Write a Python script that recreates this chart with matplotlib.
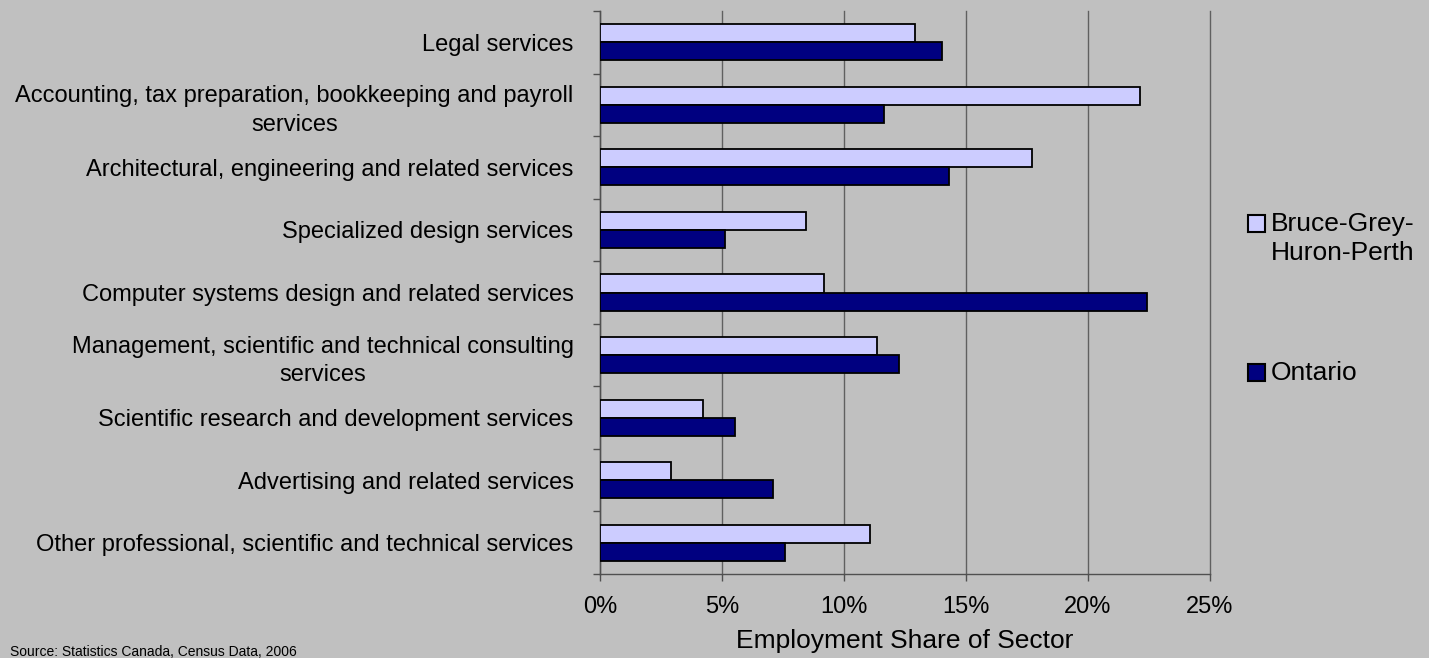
import matplotlib
matplotlib.use('Agg')
import matplotlib.pyplot as plt
from matplotlib.patches import Rectangle
import numpy as np

# Employment share by industry (percent)
categories = [
    'Legal services',
    'Accounting, tax preparation, bookkeeping and payroll\nservices',
    'Architectural, engineering and related services',
    'Specialized design services',
    'Computer systems design and related services',
    'Management, scientific and technical consulting\nservices',
    'Scientific research and development services',
    'Advertising and related services',
    'Other professional, scientific and technical services',
]
bghp = [12.92, 22.15, 17.73, 8.44, 9.19, 11.37, 4.22, 2.90, 11.06]
ontario = [14.03, 11.66, 14.32, 5.13, 22.44, 12.26, 5.52, 7.11, 7.59]
xticks = [0, 5, 10, 15, 20, 25]

plt.rcParams['font.family'] = ['Liberation Sans', 'DejaVu Sans']

bg = '#C0C0C0'
fig = plt.figure(figsize=(14.29, 6.58), dpi=100, facecolor=bg)
W, H = 1429, 658
ax = fig.add_axes([600 / W, 1 - 574 / H, 609.5 / W, 563 / H], facecolor=bg)

y = np.arange(len(categories))
h = 0.288
ax.barh(y - h / 2, bghp, height=h, color='#CCCCFF', edgecolor='black', linewidth=1.3, zorder=3)
ax.barh(y + h / 2, ontario, height=h, color='#000080', edgecolor='black', linewidth=1.3, zorder=3)

ax.set_xlim(0, 25)
ax.set_ylim(len(categories) - 0.5, -0.5)

# vertical gridlines
ax.set_xticks(xticks)
ax.set_xticklabels([f'{t}%' for t in xticks], fontsize=17)
ax.grid(axis='x', color='#606060', linewidth=1, zorder=1)
for gl in ax.get_xgridlines():
    gl.set_clip_on(False)
ax.tick_params(axis='x', length=5, width=1, color='#505050', pad=11)

# y ticks at category boundaries, labels in between
ax.set_yticks(np.arange(-0.5, len(categories)), labels=[''] * (len(categories) + 1))
ax.set_yticks(y, labels=categories, minor=True)
ax.tick_params(axis='y', which='major', length=5, width=1, color='#505050')
ax.tick_params(axis='y', which='minor', length=0, pad=19, labelsize=17)
for lab in ax.get_yticklabels(minor=True):
    lab.set_multialignment('center')
    lab.set_linespacing(1.38)

for s in ['top', 'right']:
    ax.spines[s].set_visible(False)
for s in ['left', 'bottom']:
    ax.spines[s].set_color('#505050')
    ax.spines[s].set_linewidth(1)

ax.set_xlabel('Employment Share of Sector', fontsize=19, labelpad=8)

# legend drawn by hand so the box sits at the first text line
sq = 17
fig.patches.append(Rectangle((1248 / W, 1 - 232 / H), sq / W, sq / H, transform=fig.transFigure,
                             facecolor='#CCCCFF', edgecolor='black', linewidth=1.5))
fig.patches.append(Rectangle((1248 / W, 1 - 381 / H), sq / W, sq / H, transform=fig.transFigure,
                             facecolor='#000080', edgecolor='black', linewidth=1.5))
fig.text(1271 / W, 1 - 224 / H, 'Bruce-Grey-', fontsize=19, va='center', ha='left')
fig.text(1271 / W, 1 - 253 / H, 'Huron-Perth', fontsize=19, va='center', ha='left')
fig.text(1271 / W, 1 - 373 / H, 'Ontario', fontsize=19, va='center', ha='left')

fig.text(10 / W, 1 - 645 / H, 'Source: Statistics Canada, Census Data, 2006', fontsize=10, va='top', ha='left')

fig.savefig('out.png', dpi=100, facecolor=bg)
